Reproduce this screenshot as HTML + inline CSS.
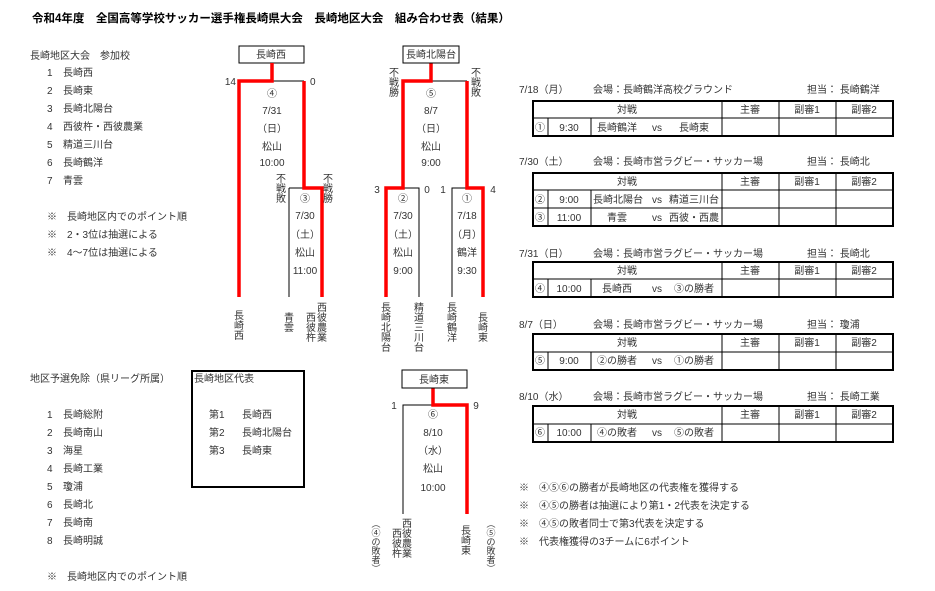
<!DOCTYPE html>
<html><head><meta charset="utf-8"><style>
body{margin:0;background:#fff}
svg{display:block}
text{font-family:"Liberation Sans","Noto Sans CJK JP",sans-serif;font-size:10px;fill:#333}
.c{text-anchor:middle}
.b{font-weight:bold;font-size:11.5px;fill:#000}
</style></head><body>
<svg width="935" height="591" viewBox="0 0 935 591" xmlns="http://www.w3.org/2000/svg">
<text x="32" y="22" class="b">令和4年度　全国高等学校サッカー選手権長崎県大会　長崎地区大会　組み合わせ表（結果）</text>

<!-- left list -->
<text x="30" y="59">長崎地区大会　参加校</text>
<g>
<text x="47" y="76">1</text><text x="63" y="76">長崎西</text>
<text x="47" y="94">2</text><text x="63" y="94">長崎東</text>
<text x="47" y="112">3</text><text x="63" y="112">長崎北陽台</text>
<text x="47" y="130">4</text><text x="63" y="130">西彼杵・西彼農業</text>
<text x="47" y="148">5</text><text x="63" y="148">精道三川台</text>
<text x="47" y="166">6</text><text x="63" y="166">長崎鶴洋</text>
<text x="47" y="184">7</text><text x="63" y="184">青雲</text>
<text x="47" y="220">※　長崎地区内でのポイント順</text>
<text x="47" y="238">※　2・3位は抽選による</text>
<text x="47" y="256">※　4～7位は抽選による</text>
</g>
<text x="30" y="382">地区予選免除（県リーグ所属）</text>
<g>
<text x="47" y="418">1</text><text x="63" y="418">長崎総附</text>
<text x="47" y="436">2</text><text x="63" y="436">長崎南山</text>
<text x="47" y="454">3</text><text x="63" y="454">海星</text>
<text x="47" y="472">4</text><text x="63" y="472">長崎工業</text>
<text x="47" y="490">5</text><text x="63" y="490">瓊浦</text>
<text x="47" y="508">6</text><text x="63" y="508">長崎北</text>
<text x="47" y="526">7</text><text x="63" y="526">長崎南</text>
<text x="47" y="544">8</text><text x="63" y="544">長崎明誠</text>
<text x="47" y="580">※　長崎地区内でのポイント順</text>
</g>
<rect x="192" y="371" width="112" height="116" fill="none" stroke="#000" stroke-width="2"/>
<text x="194" y="382">長崎地区代表</text>
<text x="209" y="418">第1</text><text x="242" y="418">長崎西</text>
<text x="209" y="436">第2</text><text x="242" y="436">長崎北陽台</text>
<text x="209" y="454">第3</text><text x="242" y="454">長崎東</text>

<!-- bracket 1 -->
<rect x="239" y="46" width="65" height="17" fill="none" stroke="#000" stroke-width="1"/>
<text x="271" y="58" class="c">長崎西</text>
<g fill="none" stroke-width="1" stroke="#000">
<path d="M272 81H304"/>
<path d="M289 188H305M289 188V297"/>
<path d="M403 188H419V297"/>
<path d="M431 81H467"/>
<path d="M452 297V188H467"/>
<path d="M403 514V405H433"/>
</g>
<g fill="none" stroke="#f00" stroke-width="3.5">
<path d="M272 63V81H239V297"/>
<path d="M304 81V188H322V297"/>
<path d="M431 63V81H403V188H386V297"/>
<path d="M467 81V188H483V297"/>
<path d="M433 388V405H467V514"/>
</g>
<text x="236" y="85" text-anchor="end">14</text>
<text x="310" y="85">0</text>
<g class="c">
<text x="272" y="97" class="c">④</text><text x="272" y="114" class="c">7/31</text><text x="272" y="132" class="c">（日）</text><text x="272" y="150" class="c">松山</text><text x="272" y="166" class="c">10:00</text>
<text x="305" y="202" class="c">③</text><text x="305" y="219" class="c">7/30</text><text x="305" y="238" class="c">（土）</text><text x="305" y="256" class="c">松山</text><text x="305" y="274" class="c">11:00</text>
</g>
<text x="281" y="182" class="c"><tspan x="281">不</tspan><tspan x="281" dy="10">戦</tspan><tspan x="281" dy="10">敗</tspan></text>
<text x="328" y="182" class="c"><tspan x="328">不</tspan><tspan x="328" dy="10">戦</tspan><tspan x="328" dy="10">勝</tspan></text>
<text x="239" y="319" class="c"><tspan x="239">長</tspan><tspan x="239" dy="10">崎</tspan><tspan x="239" dy="10">西</tspan></text>
<text x="289" y="321" class="c"><tspan x="289">青</tspan><tspan x="289" dy="10">雲</tspan></text>
<text x="322" y="311" class="c"><tspan x="322">西</tspan><tspan x="322" dy="10">彼</tspan><tspan x="322" dy="10">農</tspan><tspan x="322" dy="10">業</tspan></text>
<text x="311" y="321" class="c"><tspan x="311">西</tspan><tspan x="311" dy="10">彼</tspan><tspan x="311" dy="10">杵</tspan></text>

<!-- bracket 2 -->
<rect x="403" y="46" width="56" height="17" fill="none" stroke="#000" stroke-width="1"/>
<text x="431" y="58" class="c">長崎北陽台</text>
<text x="394" y="76" class="c"><tspan x="394">不</tspan><tspan x="394" dy="10">戦</tspan><tspan x="394" dy="10">勝</tspan></text>
<text x="476" y="76" class="c"><tspan x="476">不</tspan><tspan x="476" dy="10">戦</tspan><tspan x="476" dy="10">敗</tspan></text>
<text x="431" y="97" class="c">⑤</text><text x="431" y="114" class="c">8/7</text><text x="431" y="132" class="c">（日）</text><text x="431" y="150" class="c">松山</text><text x="431" y="166" class="c">9:00</text>
<text x="377" y="193" class="c">3</text><text x="427" y="193" class="c">0</text><text x="443" y="193" class="c">1</text><text x="493" y="193" class="c">4</text>
<text x="403" y="202" class="c">②</text><text x="403" y="219" class="c">7/30</text><text x="403" y="238" class="c">（土）</text><text x="403" y="256" class="c">松山</text><text x="403" y="274" class="c">9:00</text>
<text x="467" y="202" class="c">①</text><text x="467" y="219" class="c">7/18</text><text x="467" y="238" class="c">（月）</text><text x="467" y="256" class="c">鶴洋</text><text x="467" y="274" class="c">9:30</text>
<text x="386" y="311" class="c"><tspan x="386">長</tspan><tspan x="386" dy="10">崎</tspan><tspan x="386" dy="10">北</tspan><tspan x="386" dy="10">陽</tspan><tspan x="386" dy="10">台</tspan></text>
<text x="419" y="311" class="c"><tspan x="419">精</tspan><tspan x="419" dy="10">道</tspan><tspan x="419" dy="10">三</tspan><tspan x="419" dy="10">川</tspan><tspan x="419" dy="10">台</tspan></text>
<text x="452" y="311" class="c"><tspan x="452">長</tspan><tspan x="452" dy="10">崎</tspan><tspan x="452" dy="10">鶴</tspan><tspan x="452" dy="10">洋</tspan></text>
<text x="483" y="321" class="c"><tspan x="483">長</tspan><tspan x="483" dy="10">崎</tspan><tspan x="483" dy="10">東</tspan></text>

<!-- bracket 3 -->
<rect x="402" y="370" width="65" height="18" fill="none" stroke="#000" stroke-width="1"/>
<text x="434" y="383" class="c">長崎東</text>
<text x="394" y="409" class="c">1</text><text x="476" y="409" class="c">9</text>
<text x="433" y="418" class="c">⑥</text><text x="433" y="436" class="c">8/10</text><text x="433" y="454" class="c">（水）</text><text x="433" y="472" class="c">松山</text><text x="433" y="491" class="c">10:00</text>
<text x="376" y="527" class="c" style="font-size:9px"><tspan x="376">︵</tspan><tspan x="376" dy="9">④</tspan><tspan x="376" dy="9">の</tspan><tspan x="376" dy="9">敗</tspan><tspan x="376" dy="9">者</tspan><tspan x="376" dy="9">︶</tspan></text>
<text x="491" y="527" class="c" style="font-size:9px"><tspan x="491">︵</tspan><tspan x="491" dy="9">⑤</tspan><tspan x="491" dy="9">の</tspan><tspan x="491" dy="9">敗</tspan><tspan x="491" dy="9">者</tspan><tspan x="491" dy="9">︶</tspan></text>
<text x="407" y="527" class="c"><tspan x="407">西</tspan><tspan x="407" dy="10">彼</tspan><tspan x="407" dy="10">農</tspan><tspan x="407" dy="10">業</tspan></text>
<text x="397" y="537" class="c"><tspan x="397">西</tspan><tspan x="397" dy="10">彼</tspan><tspan x="397" dy="10">杵</tspan></text>
<text x="466" y="534" class="c"><tspan x="466">長</tspan><tspan x="466" dy="10">崎</tspan><tspan x="466" dy="10">東</tspan></text>

<!-- tables -->
<g>
<text x="519" y="93">7/18（月）</text><text x="593" y="93">会場：長崎鶴洋高校グラウンド</text><text x="807" y="93">担当：  長崎鶴洋</text>
<g fill="none" stroke="#000">
<rect x="533" y="101" width="360" height="35" stroke-width="2"/>
<path d="M533 118H893M722 101V136M779 101V136M836 101V136M548 118V136M591 118V136"/>
</g>
<text x="627" y="113" class="c">対戦</text><text x="750" y="113" class="c">主審</text><text x="807" y="113" class="c">副審1</text><text x="864" y="113" class="c">副審2</text>
<text x="540" y="131" class="c">①</text><text x="569" y="131" class="c">9:30</text><text x="617" y="131" class="c">長崎鶴洋</text><text x="657" y="131" class="c">vs</text><text x="694" y="131" class="c">長崎東</text>

<text x="519" y="165">7/30（土）</text><text x="593" y="165">会場：長崎市営ラグビー・サッカー場</text><text x="807" y="165">担当：  長崎北</text>
<g fill="none" stroke="#000">
<rect x="533" y="173" width="360" height="53" stroke-width="2"/>
<path d="M533 190H893M533 208H893M722 173V226M779 173V226M836 173V226M548 190V226M591 190V226"/>
</g>
<text x="627" y="185" class="c">対戦</text><text x="750" y="185" class="c">主審</text><text x="807" y="185" class="c">副審1</text><text x="864" y="185" class="c">副審2</text>
<text x="540" y="203" class="c">②</text><text x="569" y="203" class="c">9:00</text><text x="618" y="203" class="c">長崎北陽台</text><text x="657" y="203" class="c">vs</text><text x="694" y="203" class="c">精道三川台</text>
<text x="540" y="221" class="c">③</text><text x="569" y="221" class="c">11:00</text><text x="617" y="221" class="c">青雲</text><text x="657" y="221" class="c">vs</text><text x="694" y="221" class="c">西彼・西農</text>

<text x="519" y="257">7/31（日）</text><text x="593" y="257">会場：長崎市営ラグビー・サッカー場</text><text x="807" y="257">担当：  長崎北</text>
<g fill="none" stroke="#000">
<rect x="533" y="262" width="360" height="35" stroke-width="2"/>
<path d="M533 279H893M722 262V297M779 262V297M836 262V297M548 279V297M591 279V297"/>
</g>
<text x="627" y="274" class="c">対戦</text><text x="750" y="274" class="c">主審</text><text x="807" y="274" class="c">副審1</text><text x="864" y="274" class="c">副審2</text>
<text x="540" y="292" class="c">④</text><text x="569" y="292" class="c">10:00</text><text x="617" y="292" class="c">長崎西</text><text x="657" y="292" class="c">vs</text><text x="694" y="292" class="c">③の勝者</text>

<text x="519" y="328">8/7（日）</text><text x="593" y="328">会場：長崎市営ラグビー・サッカー場</text><text x="807" y="328">担当：  瓊浦</text>
<g fill="none" stroke="#000">
<rect x="533" y="334" width="360" height="36" stroke-width="2"/>
<path d="M533 352H893M722 334V370M779 334V370M836 334V370M548 352V370M591 352V370"/>
</g>
<text x="627" y="346" class="c">対戦</text><text x="750" y="346" class="c">主審</text><text x="807" y="346" class="c">副審1</text><text x="864" y="346" class="c">副審2</text>
<text x="540" y="364" class="c">⑤</text><text x="569" y="364" class="c">9:00</text><text x="617" y="364" class="c">②の勝者</text><text x="657" y="364" class="c">vs</text><text x="694" y="364" class="c">①の勝者</text>

<text x="519" y="400">8/10（水）</text><text x="593" y="400">会場：長崎市営ラグビー・サッカー場</text><text x="807" y="400">担当：  長崎工業</text>
<g fill="none" stroke="#000">
<rect x="533" y="406" width="360" height="36" stroke-width="2"/>
<path d="M533 424H893M722 406V442M779 406V442M836 406V442M548 424V442M591 424V442"/>
</g>
<text x="627" y="418" class="c">対戦</text><text x="750" y="418" class="c">主審</text><text x="807" y="418" class="c">副審1</text><text x="864" y="418" class="c">副審2</text>
<text x="540" y="436" class="c">⑥</text><text x="569" y="436" class="c">10:00</text><text x="617" y="436" class="c">④の敗者</text><text x="657" y="436" class="c">vs</text><text x="694" y="436" class="c">⑤の敗者</text>

<text x="519" y="491">※　④⑤⑥の勝者が長崎地区の代表権を獲得する</text>
<text x="519" y="509">※　④⑤の勝者は抽選により第1・2代表を決定する</text>
<text x="519" y="527">※　④⑤の敗者同士で第3代表を決定する</text>
<text x="519" y="545">※　代表権獲得の3チームに6ポイント</text>
</g>
</svg>
</body></html>
